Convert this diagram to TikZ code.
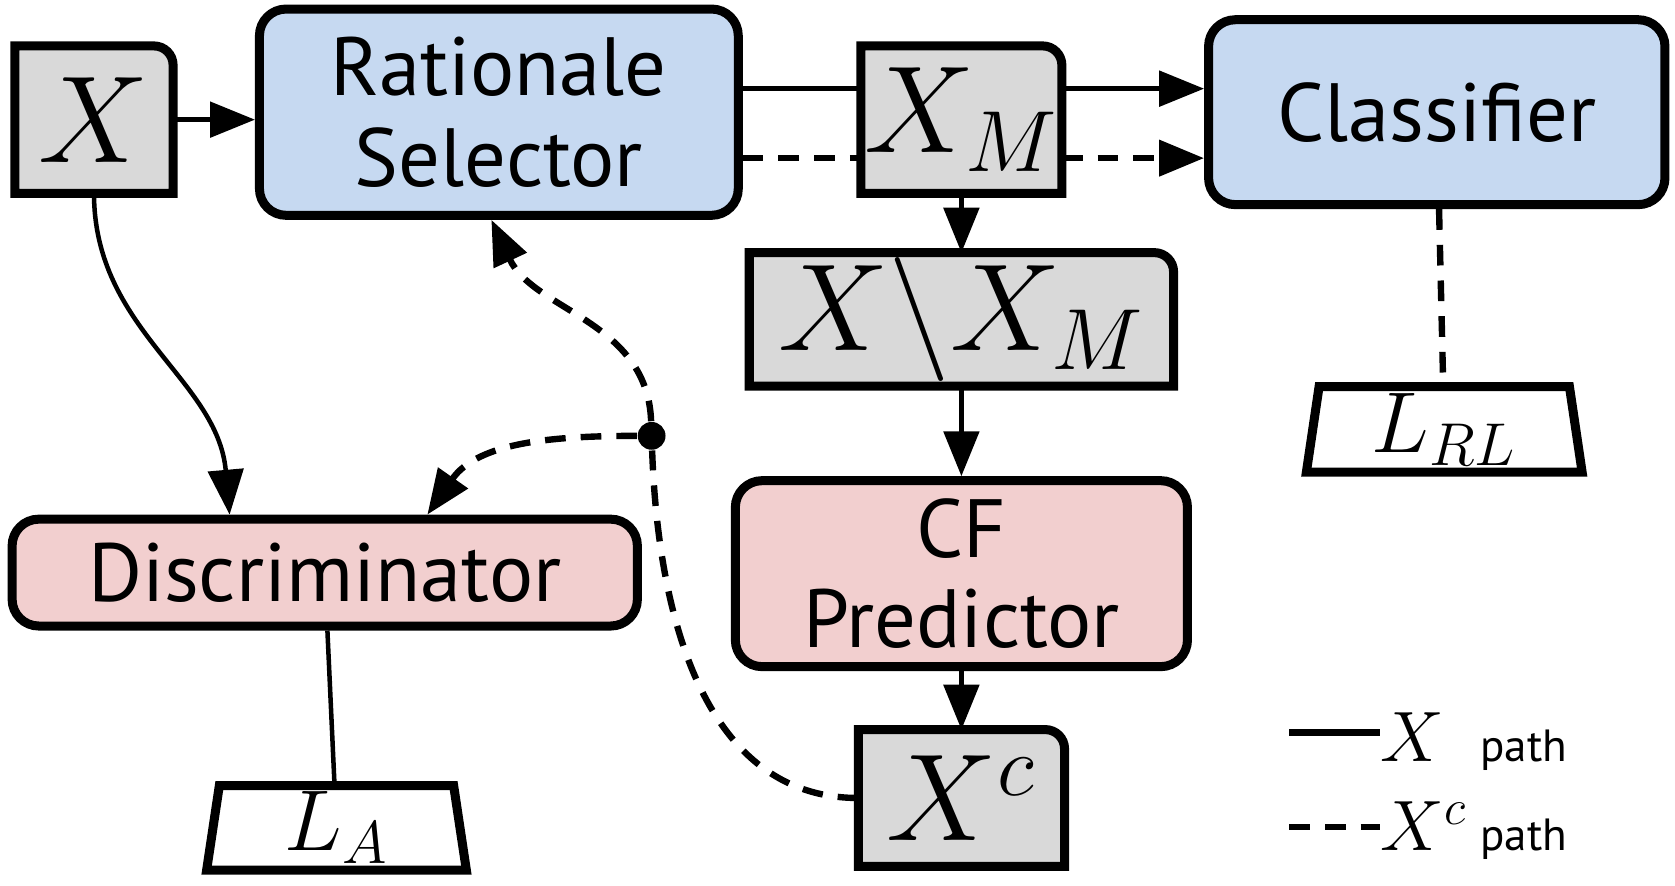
\RequirePackage{fix-cm}
\documentclass[tikz,border=0pt]{standalone}
\usepackage{fontspec}
\setmainfont{PT Sans}
\usepackage{xcolor}
\usepackage{tikz}
\usetikzlibrary{arrows.meta, shapes.geometric, backgrounds}

\definecolor{selblue}{RGB}{198,217,241}
\definecolor{predpink}{RGB}{242,207,207}
\definecolor{datagray}{RGB}{217,217,217}

\begin{document}
\begin{tikzpicture}[x=0.01cm, y=-0.01cm,
      module/.style={draw, line width=2.4pt, rounded corners=0.25cm, align=center,
        inner sep=0pt, font=\fontsize{22}{24}\selectfont},
      selmod/.style={module, fill=selblue},
      predmod/.style={module, fill=predpink},
      data/.style={inner sep=0pt, outer sep=0pt, font=\fontsize{33}{36}\selectfont},
      dataframe/.style={fill=datagray, draw, line width=2.4pt},
      loss/.style={draw, line width=2.4pt, trapezium, trapezium angle=80,
        trapezium stretches body=true, inner sep=0pt, font=\fontsize{23}{26}\selectfont},
      splitdot/.style={circle, fill, inner sep=0pt, minimum size=0.26cm},
      keymath/.style={inner sep=0pt, font=\fontsize{19}{22}\selectfont},
      keytext/.style={inner sep=0pt, font=\fontsize{12}{14}\selectfont},
      conn/.style={line width=1.2pt},
      arr/.style={conn, -{Triangle[length=0.42cm,width=0.33cm]}},
      cfpath/.style={line width=1.7pt, dash pattern=on 5.5pt off 4pt},
      cfarr/.style={cfpath, -{Triangle[length=0.42cm,width=0.33cm]}}]
  \useasboundingbox (0,0) rectangle (1568,829);

  % top row
  \node[data, minimum width=1.48cm, minimum height=1.38cm] (x) at (88,112) {$X$};
  \node[selmod, minimum width=4.48cm, minimum height=1.93cm] (rs) at (467,105) {Rationale\\Selector};
  \node[data, minimum width=1.88cm, minimum height=1.38cm] (xm) at (900,112) {$X_M$};
  \node[selmod, minimum width=4.27cm, minimum height=1.73cm] (cls) at (1345,105) {Classifier};

  % middle column
  \node[data, minimum width=3.97cm, minimum height=1.25cm] (xrest) at (900,299) {$X\backslash X_M$};
  \node[predmod, minimum width=4.23cm, minimum height=1.74cm] (cf) at (900,537) {CF\\Predictor};
  \node[data, minimum width=1.93cm, minimum height=1.28cm] (xc) at (900,747) {$X^c$};

  \node[predmod, minimum width=5.85cm, minimum height=1.0cm] (dis) at (304,536) {Discriminator};
  \node[loss, minimum width=2.43cm, minimum height=0.79cm] (la) at (315,775) {$L_A$};
  \node[loss, minimum width=2.58cm, minimum height=0.80cm] (lrl) at (1352,402) {$L_{RL}$};
  \node[splitdot] (split) at (610,408) {};

  \begin{scope}[on background layer]
    \foreach \n in {x, xm, xrest, xc}
      \filldraw[dataframe] (\n.south west) -- (\n.north west)
        -- ([xshift=-0.18cm]\n.north east) arc[start angle=90, end angle=0, radius=0.18cm]
        -- (\n.south east) -- cycle;
  \end{scope}

  % X path
  \draw[arr] (x.east) -- (x.east -| rs.west);
  \draw[conn] ([yshift=0.22cm]rs.east) -- ([yshift=0.22cm]rs.east -| xm.west);
  \draw[arr] ([yshift=0.29cm]xm.east) -- ([yshift=0.29cm]xm.east -| cls.west);
  \draw[arr] (xm) -- (xrest);
  \draw[arr] (xrest) -- (cf);
  \draw[arr] (cf) -- (xc);
  \draw[arr] (x.south) to[out=-90, in=95] ([xshift=-0.89cm]dis.north);
  \draw[conn] (dis) -- (la);

  % X^c path
  \draw[cfpath] ([yshift=-0.43cm]rs.east) -- ([yshift=-0.43cm]rs.east -| xm.west);
  \draw[cfarr] ([yshift=-0.36cm]xm.east) -- ([yshift=-0.36cm]xm.east -| cls.west);
  \draw[cfpath] (cls) -- (lrl);
  \draw[cfpath] (xc.west) to[out=180, in=-88] (split);
  \draw[cfarr] (split) to[out=92, in=-65] ([xshift=-0.07cm]rs.south);
  \draw[cfarr] (split) to[out=180, in=55] ([xshift=0.96cm]dis.north);

  % legend
  \coordinate (ksolid) at (1207,686);
  \coordinate (kdash) at (1207,774);
  \node[keymath, anchor=base west] (kx) at (1292,713) {$X$};
  \node[keymath, anchor=base west] (kxc) at (1292,796) {$X^c$};
  \node[keytext, anchor=base west] (kxp) at (1385,713) {path};
  \node[keytext, anchor=base west] (kxcp) at (1385,796) {path};
  \draw[conn, line width=1.8pt] (ksolid) -- (ksolid -| kx.west);
  \draw[cfpath] (kdash) -- (kdash -| kxc.west);
\end{tikzpicture}
\end{document}
